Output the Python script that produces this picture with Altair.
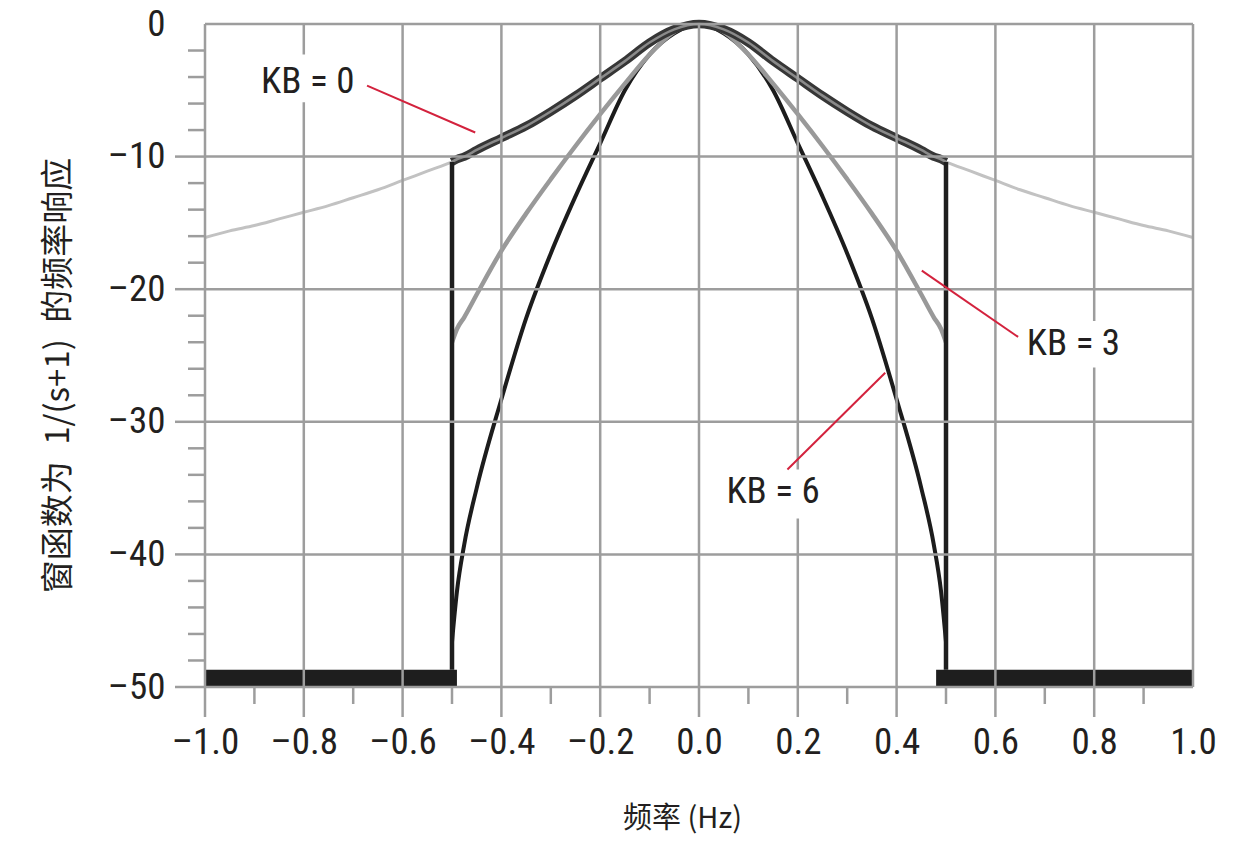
import altair as alt
import pandas as pd

# ---- values ----
FREQ = [-1.0, -0.95, -0.9, -0.85, -0.8, -0.75, -0.7, -0.65, -0.6, -0.55, -0.5,
        -0.45, -0.4, -0.35, -0.3, -0.25, -0.2, -0.15, -0.1, -0.05, 0.0,
        0.05, 0.1, 0.15, 0.2, 0.25, 0.3, 0.35, 0.4, 0.45, 0.5,
        0.55, 0.6, 0.65, 0.7, 0.75, 0.8, 0.85, 0.9, 0.95, 1.0]
BASE_DB = [-16.1, -15.6, -15.2, -14.7, -14.2, -13.7, -13.1, -12.5, -11.8, -11.1, -10.4,
           -9.5, -8.6, -7.7, -6.6, -5.4, -4.1, -2.8, -1.4, -0.4, 0.0,
           -0.4, -1.4, -2.8, -4.1, -5.4, -6.6, -7.7, -8.6, -9.5, -10.4,
           -11.1, -11.8, -12.5, -13.1, -13.7, -14.2, -14.7, -15.2, -15.6, -16.1]

WIN_FREQ = [-0.5, -0.49, -0.475, -0.45, -0.4, -0.35, -0.3, -0.25, -0.2, -0.15, -0.1, -0.05, 0.0,
            0.05, 0.1, 0.15, 0.2, 0.25, 0.3, 0.35, 0.4, 0.45, 0.475, 0.49, 0.5]
KB0_DB = [-10.4, -10.2, -10.0, -9.5, -8.6, -7.7, -6.6, -5.4, -4.1, -2.8, -1.4, -0.4, 0.0,
          -0.4, -1.4, -2.8, -4.1, -5.4, -6.6, -7.7, -8.6, -9.5, -10.0, -10.2, -10.4]
KB3_DB = [-24.0, -23.0, -22.1, -20.4, -17.1, -14.3, -11.7, -9.2, -6.8, -4.5, -2.3, -0.6, 0.0,
          -0.6, -2.3, -4.5, -6.8, -9.2, -11.7, -14.3, -17.1, -20.4, -22.1, -23.0, -24.0]
KB6_DB = [-46.6, -42.8, -39.2, -35.0, -28.3, -22.2, -17.3, -13.0, -9.0, -5.0, -2.3, -0.7, 0.0,
          -0.7, -2.3, -5.0, -9.0, -13.0, -17.3, -22.2, -28.3, -35.0, -39.2, -42.8, -46.6]

# cut-off edges of the window and the -50 dB floor
EDGE_X = [-0.5, 0.5]
EDGE_TOP = [-10.4, -10.4]
FLOOR_X = [-1.0, 0.48]
FLOOR_X2 = [-0.49, 1.0]
FLOOR_TOP = -48.7
FLOOR_BOTTOM = -50.0

# axes
X_TICKS = [-1.0, -0.8, -0.6, -0.4, -0.2, 0.0, 0.2, 0.4, 0.6, 0.8, 1.0]
Y_TICKS = [-50, -40, -30, -20, -10, 0]
X_MAJOR = [-1.0, -0.8, -0.6, -0.4, -0.2, 0.0, 0.2, 0.4, 0.6, 0.8]
Y_MAJOR = [-50, -40, -30, -20, -10]
X_MINOR = [-0.9, -0.7, -0.5, -0.3, -0.1, 0.1, 0.3, 0.5, 0.7, 0.9]
Y_MINOR = [-48, -46, -44, -42, -38, -36, -34, -32, -28, -26, -24, -22,
           -18, -16, -14, -12, -8, -6, -4, -2]

# annotations
LABELS = ['KB = 0', 'KB = 3', 'KB = 6']
LABEL_X = [-0.792, 0.758, 0.150]
LABEL_Y = [-4.4, -24.1, -35.3]
BOX_X = [-0.905, 0.646, 0.038]
BOX_X2 = [-0.682, 0.869, 0.261]
BOX_Y = [-2.3, -22.4, -33.6]
BOX_Y2 = [-5.9, -25.9, -37.3]
LEAD_X = [-0.672, 0.451, 0.377]
LEAD_Y = [-4.65, -18.6, -26.3]
LEAD_X2 = [-0.453, 0.646, 0.179]
LEAD_Y2 = [-8.18, -23.6, -33.6]

FONT = 'Roboto Condensed, Liberation Sans Narrow, DejaVu Sans Condensed, sans-serif'
CJK = 'Noto Sans CJK SC'
TXT = '#231f20'
GRID = '#9d9d9d'
RED = '#d3223d'
W, H = 988, 663
FS = 37
DASH = "replace(datum.label, '\u2212', '\u2013')"

XS = alt.Scale(domain=[-1.0, 1.0], nice=False, zero=False)
YS = alt.Scale(domain=[-50, 0], nice=False, zero=False)
X_AX = alt.Axis(values=X_TICKS, format='.1f', labelExpr=DASH, ticks=False, domain=False,
                grid=False, labelFont=FONT, labelFontSize=FS, labelColor=TXT, labelPadding=37,
                labelFlush=False, title='频率 (Hz)', titleFont=CJK, titleFontSize=29,
                titleFontWeight='normal', titleColor=TXT, titleX=477, titleY=131,
                titleBaseline='middle', titleAlign='center')
Y_AX = alt.Axis(values=Y_TICKS, format='d', labelExpr=DASH, ticks=False, domain=False,
                grid=False, labelFont=FONT, labelFontSize=FS, labelColor=TXT, labelPadding=40,
                labelFlush=False, title='窗函数为\u20021/(s+1)\u2002的频率响应', titleFont=CJK,
                titleFontSize=33, titleFontWeight='normal', titleColor=TXT,
                titleAngle=270, titleX=-147, titleY=351, titleBaseline='middle',
                titleAlign='center')


def xe(field):
    return alt.X(field, type='quantitative', scale=XS, axis=X_AX)


def ye(field):
    return alt.Y(field, type='quantitative', scale=YS, axis=Y_AX)


base_df = pd.DataFrame({'f': FREQ, 'db': BASE_DB})
win_df = pd.DataFrame({'f': WIN_FREQ, 'kb0': KB0_DB, 'kb3': KB3_DB, 'kb6': KB6_DB})
edge_df = pd.DataFrame({'f': EDGE_X, 'top': EDGE_TOP, 'bot': [FLOOR_TOP] * 2})
floor_df = pd.DataFrame({'f': FLOOR_X, 'f2': FLOOR_X2, 'top': [FLOOR_TOP] * 2,
                         'bot': [FLOOR_BOTTOM] * 2})
xmaj_df = pd.DataFrame({'v': X_MAJOR})
ymaj_df = pd.DataFrame({'v': Y_MAJOR})
xgrid_df = pd.DataFrame({'v': X_TICKS})
ygrid_df = pd.DataFrame({'v': Y_TICKS})
xmin_df = pd.DataFrame({'v': X_MINOR})
ymin_df = pd.DataFrame({'v': Y_MINOR})
ann_df = pd.DataFrame({'label': LABELS, 'x': LABEL_X, 'y': LABEL_Y,
                       'bx': BOX_X, 'bx2': BOX_X2, 'by': BOX_Y, 'by2': BOX_Y2,
                       'lx': LEAD_X, 'ly': LEAD_Y, 'lx2': LEAD_X2, 'ly2': LEAD_Y2})

light = alt.Chart(base_df).mark_line(color='#c2c2c2', strokeWidth=3, interpolate='monotone').encode(
    x=xe('f'), y=ye('db'))
kb6 = alt.Chart(win_df).mark_line(color='#1c1c1c', strokeWidth=4, interpolate='monotone').encode(
    x=xe('f'), y=ye('kb6'))
kb3 = alt.Chart(win_df).mark_line(color='#999999', strokeWidth=4.5, interpolate='monotone').encode(
    x=xe('f'), y=ye('kb3'))
kb0_outer = alt.Chart(win_df).mark_line(color='#363636', strokeWidth=8.5, interpolate='monotone').encode(
    x=xe('f'), y=ye('kb0'))
kb0_inner = alt.Chart(win_df).mark_line(color='#8a8a8a', strokeWidth=2.5, interpolate='monotone').encode(
    x=xe('f'), y=ye('kb0'))
edges = alt.Chart(edge_df).mark_rule(color='#1e1e1e', strokeWidth=4.5).encode(
    x=xe('f'), y=ye('top'), y2='bot')
floor = alt.Chart(floor_df).mark_rect(color='#1e1e1e').encode(
    x=xe('f'), x2='f2', y=ye('top'), y2='bot')

vgrid = alt.Chart(xgrid_df).mark_rule(color=GRID, strokeWidth=2.5).encode(x=xe('v'))
hgrid = alt.Chart(ygrid_df).mark_rule(color=GRID, strokeWidth=2.5).encode(y=ye('v'))
xmaj = alt.Chart(xmaj_df).mark_rule(color=GRID, strokeWidth=2.5).encode(
    x=xe('v'), y=alt.value(H), y2=alt.value(H + 30))
ymaj = alt.Chart(ymaj_df).mark_rule(color=GRID, strokeWidth=2.5).encode(
    y=ye('v'), x=alt.value(-30), x2=alt.value(0))
xmin = alt.Chart(xmin_df).mark_rule(color=GRID, strokeWidth=2.5).encode(
    x=xe('v'), y=alt.value(H), y2=alt.value(H + 17))
ymin = alt.Chart(ymin_df).mark_rule(color=GRID, strokeWidth=2.5).encode(
    y=ye('v'), x=alt.value(-17), x2=alt.value(0))

boxes = alt.Chart(ann_df).mark_rect(color='white').encode(
    x=xe('bx'), x2='bx2', y=ye('by'), y2='by2')
leaders = alt.Chart(ann_df).mark_rule(color=RED, strokeWidth=2).encode(
    x=xe('lx'), y=ye('ly'), x2='lx2', y2='ly2')
labels = alt.Chart(ann_df).mark_text(font=FONT, fontSize=FS, color=TXT, align='center',
                                     baseline='middle').encode(
    x=xe('x'), y=ye('y'), text='label:N')

chart = alt.layer(
    light, kb6, kb3, kb0_outer, kb0_inner, edges, floor,
    vgrid, hgrid, xmaj, ymaj, xmin, ymin,
    boxes, leaders, labels
).properties(
    width=W, height=H,
    autosize=alt.AutoSizeParams(type='none'),
    padding={'left': 197, 'top': 16, 'right': 35, 'bottom': 152},
    background='white'
).configure_view(strokeWidth=0)

chart.save('out.html', embed_options={'renderer': 'svg', 'actions': False})
